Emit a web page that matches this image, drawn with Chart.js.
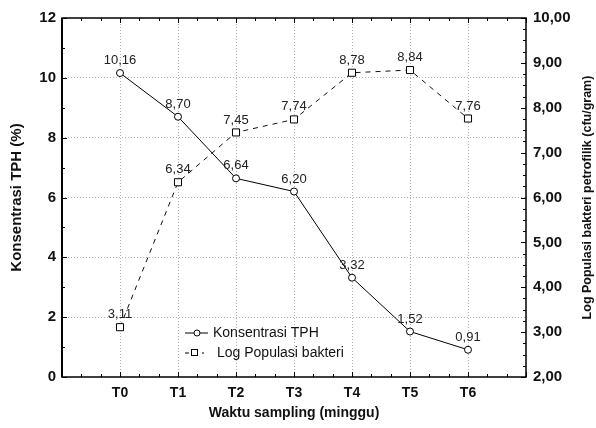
<!DOCTYPE html>
<html>
<head>
<meta charset="utf-8">
<script src="https://cdn.jsdelivr.net/npm/chart.js@4.4.1/dist/chart.umd.min.js"></script>
<style>
  html, body { margin: 0; padding: 0; background: #fff; }
  #wrap { width: 596px; height: 428px; }
</style>
</head>
<body>
<div id="wrap"><canvas id="chart"></canvas></div>
<script>
// data
const categories = ['T0', 'T1', 'T2', 'T3', 'T4', 'T5', 'T6'];
const tphValues = [10.16, 8.70, 6.64, 6.20, 3.32, 1.52, 0.91];
const logValues = [3.11, 6.34, 7.45, 7.74, 8.78, 8.84, 7.76];
const tphLabel = 'Konsentrasi TPH';
const logLabel = 'Log Populasi bakteri';
const rightTitle = 'Log Populasi bakteri petrofilik (cfu/gram)';

const FONT = '"Liberation Sans", Arial, sans-serif';
const fmt = v => v.toFixed(2).replace('.', ',');

// minor ticks, box, point labels, right title and legend
const decorPlugin = {
    id: 'decor',
    afterDatasetsDraw(chart) {
        const ctx = chart.ctx;
        const a = chart.chartArea;
        const x = chart.scales.x, y = chart.scales.y, y1 = chart.scales.y1;
        ctx.save();
        ctx.strokeStyle = '#000';
        ctx.lineWidth = 1;
        ctx.beginPath();
        // x ticks, bottom and top, every third of a category
        for (let v = -1; v <= 7.001; v += 1 / 3) {
            const px = Math.round(x.getPixelForValue(v)) + 0.5;
            const len = Math.abs(v - Math.round(v)) < 0.01 ? 5 : 3;
            ctx.moveTo(px, a.bottom); ctx.lineTo(px, a.bottom - len);
            ctx.moveTo(px, a.top); ctx.lineTo(px, a.top + len);
        }
        // left axis ticks
        for (let v = 0; v <= 12; v += 1) {
            const py = Math.round(y.getPixelForValue(v)) + 0.5;
            const len = v % 2 === 0 ? 5 : 3;
            ctx.moveTo(a.left, py); ctx.lineTo(a.left + len, py);
        }
        // right axis ticks
        for (let v = 2; v <= 10.001; v += 0.25) {
            const py = Math.round(y1.getPixelForValue(v)) + 0.5;
            const len = Math.abs(v - Math.round(v)) < 0.01 ? 5 : 3;
            ctx.moveTo(a.right, py); ctx.lineTo(a.right - len, py);
        }
        ctx.stroke();

        // plot box
        ctx.lineWidth = 1.5;
        ctx.strokeRect(a.left, a.top, a.right - a.left, a.bottom - a.top);
        ctx.lineWidth = 2;
        ctx.beginPath();
        ctx.moveTo(a.left, a.top); ctx.lineTo(a.left, a.bottom);
        ctx.stroke();

        // value labels
        ctx.fillStyle = '#222';
        ctx.font = '13px ' + FONT;
        ctx.textAlign = 'center';
        ctx.textBaseline = 'bottom';
        chart.data.datasets.forEach((ds, i) => {
            chart.getDatasetMeta(i).data.forEach((pt, j) => {
                ctx.fillText(fmt(ds.data[j].y), pt.x, pt.y - 6);
            });
        });

        // right axis title, reading bottom to top
        ctx.save();
        ctx.translate(588, (a.top + a.bottom) / 2);
        ctx.rotate(-Math.PI / 2);
        ctx.fillStyle = '#111';
        ctx.font = 'bold 12.5px ' + FONT;
        ctx.textAlign = 'center';
        ctx.textBaseline = 'middle';
        ctx.fillText(rightTitle, 0, 0);
        ctx.restore();

        // legend
        const lx = 185, ly1 = 333, ly2 = 353;
        ctx.strokeStyle = '#000';
        ctx.lineWidth = 1;
        ctx.beginPath();
        ctx.moveTo(lx, ly1); ctx.lineTo(lx + 23, ly1);
        ctx.stroke();
        ctx.fillStyle = '#fff';
        ctx.beginPath();
        ctx.arc(lx + 12, ly1, 3, 0, Math.PI * 2);
        ctx.fill(); ctx.stroke();
        ctx.beginPath();
        ctx.moveTo(lx, ly2); ctx.lineTo(lx + 4, ly2);
        ctx.moveTo(lx + 17, ly2); ctx.lineTo(lx + 19, ly2);
        ctx.stroke();
        ctx.fillRect(lx + 6, ly2 - 3, 6, 6);
        ctx.strokeRect(lx + 6.5, ly2 - 3.5, 6, 6);
        ctx.fillStyle = '#111';
        ctx.font = '14px ' + FONT;
        ctx.textAlign = 'left';
        ctx.textBaseline = 'middle';
        ctx.fillText(tphLabel, lx + 28, ly1);
        ctx.fillText(logLabel, lx + 32, ly2);
        ctx.restore();
    }
};

new Chart(document.getElementById('chart'), {
    type: 'line',
    data: {
        datasets: [
            {
                label: tphLabel,
                data: tphValues.map((v, i) => ({ x: i, y: v })),
                yAxisID: 'y',
                borderColor: '#000',
                borderWidth: 1,
                pointStyle: 'circle',
                pointRadius: 3.5,
                pointBackgroundColor: '#fff',
                pointBorderColor: '#000',
                pointBorderWidth: 1,
                tension: 0
            },
            {
                label: logLabel,
                data: logValues.map((v, i) => ({ x: i, y: v })),
                yAxisID: 'y1',
                borderColor: '#111',
                borderWidth: 1,
                borderDash: [5, 5],
                pointStyle: 'rect',
                pointRadius: 5,
                pointBackgroundColor: '#fff',
                pointBorderColor: '#000',
                pointBorderWidth: 1,
                tension: 0
            }
        ]
    },
    options: {
        responsive: true,
        maintainAspectRatio: false,
        animation: false,
        layout: { padding: { top: 18, left: 0, right: 0, bottom: 0 } },
        plugins: { legend: { display: false }, tooltip: { enabled: false } },
        scales: {
            x: {
                type: 'linear',
                min: -1,
                max: 7,
                afterFit: s => { s.height = 51; },
                border: { display: false, dash: [1, 2] },
                grid: {
                    drawTicks: false,
                    color: ctx => (ctx.tick && ctx.tick.value >= 0 && ctx.tick.value <= 6) ? '#b0b0b0' : 'rgba(0,0,0,0)',
                    lineWidth: 1
                },
                ticks: {
                    stepSize: 1,
                    padding: 8,
                    color: '#111',
                    font: { family: FONT, size: 14, weight: 'bold' },
                    callback: v => categories[v] || ''
                },
                title: {
                    display: true,
                    text: 'Waktu sampling (minggu)',
                    color: '#111',
                    font: { family: FONT, size: 14, weight: 'bold' },
                    padding: { top: 0, bottom: 6 }
                }
            },
            y: {
                position: 'left',
                min: 0,
                max: 12,
                afterFit: s => { s.width = 62; },
                border: { display: false, dash: [1, 2] },
                grid: {
                    drawTicks: false,
                    color: ctx => (ctx.tick && ctx.tick.value > 0 && ctx.tick.value < 12) ? '#b0b0b0' : 'rgba(0,0,0,0)'
                },
                ticks: {
                    stepSize: 2,
                    padding: 6,
                    color: '#111',
                    font: { family: FONT, size: 15, weight: 'bold' }
                },
                title: {
                    display: true,
                    text: 'Konsentrasi TPH (%)',
                    color: '#111',
                    font: { family: FONT, size: 15, weight: 'bold' },
                    padding: { top: 8, bottom: 0 }
                }
            },
            y1: {
                position: 'right',
                min: 2,
                max: 10,
                afterFit: s => { s.width = 70; },
                border: { display: false },
                grid: { display: false, drawTicks: false },
                ticks: {
                    stepSize: 1,
                    padding: 7,
                    color: '#111',
                    font: { family: FONT, size: 15, weight: 'bold' },
                    callback: v => fmt(v)
                },
                title: { display: false }
            }
        }
    },
    plugins: [decorPlugin]
});
</script>
</body>
</html>
